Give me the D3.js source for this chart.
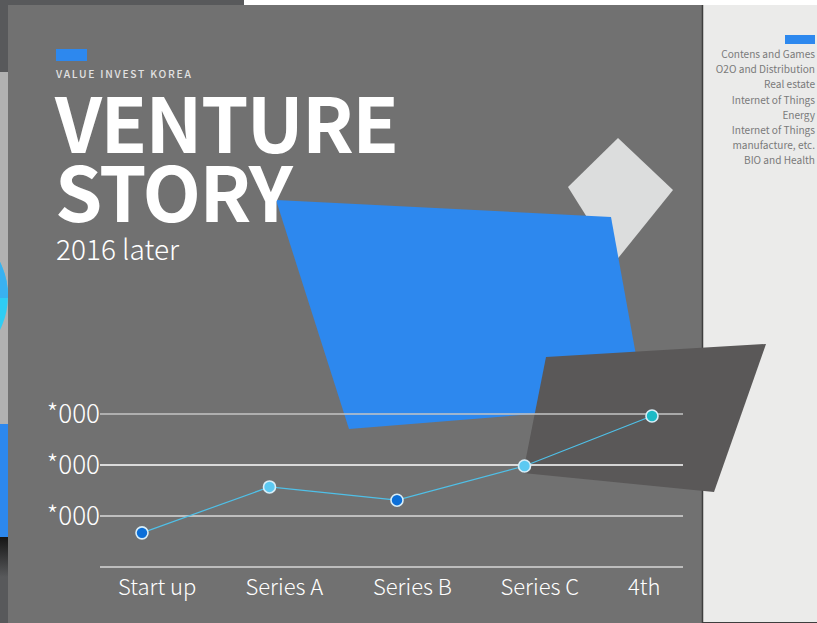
<!DOCTYPE html>
<html><head><meta charset="utf-8">
<script src="https://cdn.jsdelivr.net/npm/d3@7"></script>
<style>html,body{margin:0;padding:0;background:#fff;overflow:hidden}svg{display:block}</style>
</head><body>
<svg id="c" width="817" height="623"></svg>
<script>
// ---- data ----
const categories = ["Start up", "Series A", "Series B", "Series C", "4th"];
const values = [0.67, 1.57, 1.31, 1.98, 2.96];
const pointColors = ["#0b6fd8", "#5cc9f2", "#0b6fd8", "#5cc9f2", "#1dbac6"];
const yTicks = [1, 2, 3];
const yTickLabels = ["*000", "*000", "*000"];
const gridColors = ["#dadada", "#ffffff", "#c4c4c4"];
const legendItems = ["Contens and Games", "O2O and Distribution", "Real estate", "Internet of Things", "Energy", "Internet of Things", "manufacture, etc.", "BIO and Health"];
const kicker = "VALUE INVEST KOREA";
const titleLines = ["VENTURE", "STORY"];
const subtitle = "2016 later";

const svg = d3.select("#c");
const FONT = "'Noto Sans CJK KR','Noto Sans',sans-serif";

// ---- background layers ----
svg.append("rect").attr("x",0).attr("y",0).attr("width",244).attr("height",8).attr("fill","#58595b");
svg.append("rect").attr("x",0).attr("y",0).attr("width",8).attr("height",623).attr("fill","#58595b");
svg.append("rect").attr("x",0).attr("y",72).attr("width",8).attr("height",352).attr("fill","#b1b1b1");
const lg = svg.append("defs");
const clipL = lg.append("clipPath").attr("id","leftclip");
clipL.append("rect").attr("x",0).attr("y",72).attr("width",8).attr("height",352);
const cg = svg.append("g").attr("clip-path","url(#leftclip)");
const cclipTop = lg.append("clipPath").attr("id","ctop");
cclipTop.append("rect").attr("x",0).attr("y",0).attr("width",8).attr("height",298);
cg.append("circle").attr("cx",-68).attr("cy",296).attr("r",76).attr("fill","#2ecdf4");
cg.append("circle").attr("cx",-68).attr("cy",296).attr("r",76).attr("fill","#39b1f0").attr("clip-path","url(#ctop)");
svg.append("rect").attr("x",0).attr("y",424).attr("width",8).attr("height",113).attr("fill","#2d88ee");
const grad = lg.append("linearGradient").attr("id","lgrad").attr("x1",0).attr("y1",0).attr("x2",0).attr("y2",1);
grad.append("stop").attr("offset","0%").attr("stop-color","#151515");
grad.append("stop").attr("offset","100%").attr("stop-color","#58595b");
svg.append("rect").attr("x",0).attr("y",537).attr("width",8).attr("height",40).attr("fill","url(#lgrad)");

// main grey panel
svg.append("rect").attr("x",8).attr("y",5).attr("width",695).attr("height",618).attr("fill","#717171");

// right panel
svg.append("rect").attr("x",703).attr("y",5).attr("width",114).attr("height",617).attr("fill","#ebebea");
svg.append("line").attr("x1",702.5).attr("x2",702.5).attr("y1",5).attr("y2",623).attr("stroke","#3e3e3e").attr("stroke-width",1.5);
svg.append("line").attr("x1",702).attr("x2",817).attr("y1",622.5).attr("y2",622.5).attr("stroke","#3e3e3e").attr("stroke-width",1);

// decorative shapes
const poly = pts => "M" + pts.map(p => p.join(",")).join("L") + "Z";
svg.append("path").attr("d", poly([[618,138],[673,190],[615,262],[568,187]])).attr("fill","#dcdddd");
svg.append("path").attr("d", poly([[276,200],[611,217],[645,405],[349,429]])).attr("fill","#2d88ee");
svg.append("path").attr("d", poly([[546,357],[766,344],[714,492],[523,473]])).attr("fill","#5a5858");

// legend panel text
svg.append("rect").attr("x",785).attr("y",35).attr("width",30).attr("height",9).attr("fill","#2d88ee");
svg.append("g").selectAll("text").data(legendItems).join("text")
  .attr("x",815).attr("y",(d,i)=>58 + i*15.2)
  .attr("text-anchor","end").attr("fill","#7a7a7a")
  .style("font-family",FONT).style("font-size","10.1px").style("font-weight",400)
  .text(d=>d);

// ---- header ----
svg.append("rect").attr("x",56).attr("y",49).attr("width",31).attr("height",12).attr("fill","#2d88ee");
svg.append("text").attr("x",56).attr("y",78).attr("fill","#e2e2e2")
  .style("font-family",FONT).style("font-size","10.3px").style("letter-spacing","1.75px").style("font-weight",500)
  .text(kicker);
svg.append("g").selectAll("text").data(titleLines).join("text")
  .attr("x",55).attr("y",(d,i)=>153 + i*69).attr("fill","#ffffff")
  .style("font-family",FONT).style("font-size","76px").style("font-weight",700).style("letter-spacing","-1.6px")
  .text(d=>d);
svg.append("text").attr("x",56).attr("y",260).attr("fill","#ffffff")
  .style("font-family",FONT).style("font-size","28px").style("font-weight",300)
  .text(subtitle);

// ---- chart ----
const x = d3.scalePoint(categories, [142, 652]);
const xLab = d3.scalePoint(categories, [118, 628]);
const y = d3.scaleLinear([0, 3], [567, 414]);

const grid = svg.append("g");
grid.selectAll("line").data(yTicks).join("line")
  .attr("x1",100).attr("x2",683).attr("y1",d=>y(d)).attr("y2",d=>y(d))
  .attr("stroke",(d,i)=>gridColors[i]).attr("stroke-width",1.3);
grid.selectAll("text").data(yTicks).join("text")
  .attr("x",100).attr("y",d=>y(d)+9).attr("text-anchor","end").attr("fill","#ffffff")
  .style("font-family",FONT).style("font-size","26px").style("font-weight",300)
  .text((d,i)=>yTickLabels[i]);

svg.append("line").attr("x1",100).attr("x2",683).attr("y1",y(0)).attr("y2",y(0))
  .attr("stroke","#bdbdbd").attr("stroke-width",2);

svg.append("g").selectAll("text").data(categories).join("text")
  .attr("x",d=>xLab(d)).attr("y",595).attr("text-anchor","start").attr("fill","#ffffff")
  .style("font-family",FONT).style("font-size","22px").style("font-weight",300)
  .text(d=>d);

const line = d3.line().x((d,i)=>x(categories[i])).y(d=>y(d));
svg.append("path").datum(values).attr("d",line).attr("fill","none")
  .attr("stroke","#4fc0e8").attr("stroke-width",1.2);

svg.append("g").selectAll("circle").data(values).join("circle")
  .attr("cx",(d,i)=>x(categories[i])).attr("cy",d=>y(d)).attr("r",6)
  .attr("fill",(d,i)=>pointColors[i]).attr("stroke","#d8eef8").attr("stroke-width",1.6);
</script>
</body></html>
